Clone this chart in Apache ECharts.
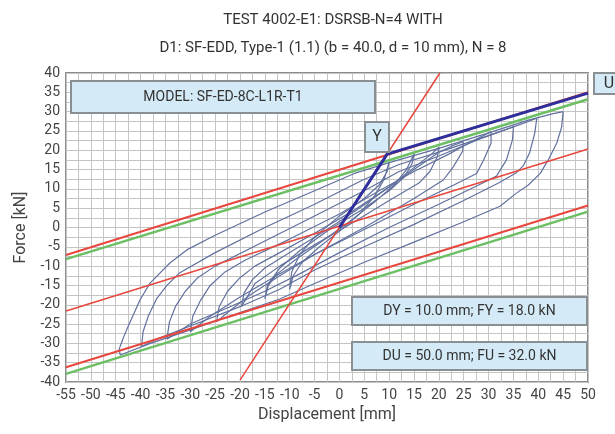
<!DOCTYPE html>
<html>
<head>
<meta charset="utf-8">
<script src="https://cdn.jsdelivr.net/npm/echarts@6/dist/echarts.min.js"></script>
<style>
html, body {margin: 0; padding: 0; background: #fff;}
#main {width: 615px; height: 434px;}
</style>
</head>
<body>
<div id="main"></div>
<script>
// hysteresis cycles, displacement [mm] / force [kN]
var loop10 = [[10,17],[9.6,14.5],[8,11],[5,7.5],[0,3],[-5,-2.5],[-8,-7],[-9.6,-11.5],[-10,-16],
    [-9.3,-12.5],[-7.5,-9],[-4,-5],[0,-1],[4,3.5],[7,8],[9,12.5],[10,17]];
var loop15 = [[15,19],[14.6,16.5],[13,13],[10,9.5],[5,5],[-2,-0.5],[-8,-6],[-12,-10.5],[-14.5,-15],[-15,-18.5],
    [-14.3,-15],[-12.5,-12],[-9,-8.5],[-4,-4],[2,1.5],[7,6.5],[11,11],[13.5,15],[15,19]];
var loop20 = [[20,20.8],[19.7,18.3],[18.2,14.5],[16,11.5],[10,7],[3,1.5],[-5,-4.5],[-12,-10],[-17,-14.5],[-19.7,-20.5],
    [-19.2,-17],[-17.5,-13.5],[-15,-10.5],[-10,-6.5],[-3,-1],[4,5],[10,10.5],[15,15.5],[18.5,19],[20,20.8]];
var loop25 = [[24.9,22.2],[24.8,19.8],[22.9,15.7],[20.9,12.3],[15,7.5],[5,0],[-5,-7],[-12,-12.5],[-18,-17.5],[-22,-21.5],[-24.7,-24.4],
    [-24.2,-20.5],[-22.5,-16.5],[-20,-13],[-17,-10],[-12,-6.5],[-5,-1.5],[3,4.5],[10,10.5],[15,15],[20,19.5],[23,21.3],[24.9,22.2]];
var loop30 = [[30.5,24.8],[30.5,21.8],[29,17.5],[27.6,14],[23,11],[15,6],[5,-0.5],[-5,-7],[-12,-12],[-20,-18],[-26,-23],[-30,-27],
    [-29.5,-23],[-28,-19],[-26,-15],[-23,-11.5],[-19,-8.5],[-10,-3],[0,3.5],[8,9.5],[15,14.5],[22,19],[27,22.5],[30.5,24.8]];
var loop35 = [[35,26.1],[34.8,22.7],[33.6,17.5],[31.6,13.3],[28,11],[20,6],[10,0],[0,-6.5],[-8,-12],[-15,-16.5],[-22,-20.5],[-30,-25],[-34.7,-28.9],
    [-34.2,-24.5],[-33,-20.5],[-31,-16.5],[-28.5,-13],[-25,-10],[-15,-3.5],[-5,3],[5,9.5],[12,14.5],[20,18.5],[28,22.8],[35,26.1]];
var loop40 = [[39.7,28.3],[39.3,24.5],[38.3,19.5],[37,16],[35.6,14.2],[32,11.5],[25,7],[15,0.8],[5,-5],[-5,-11],[-12,-16],[-20,-20.5],[-30,-25.5],[-36,-28.5],[-39.8,-30.8],
    [-39.5,-27],[-38.4,-22.8],[-36.8,-18.5],[-34.7,-15],[-32.1,-11.7],[-25,-6.5],[-15,0],[-5,6],[5,12.5],[12,16.3],[20,19.5],[30,23.8],[36,26.5],[39.7,28.3]];
var loop45 = [[45,30],[44.7,26],[43.7,21.8],[42,17.5],[40.4,14],[38,11],[35.6,8.9],[32.3,5.5],[25,1.5],[15,-3.8],[5,-9],[-5,-14.5],[-12,-18.5],[-20,-22],[-30,-26.5],[-38,-30],[-44.1,-33],
    [-44.3,-31.5],[-43.6,-29],[-42.8,-26.5],[-40.1,-18.7],[-38.1,-14.4],[-34.1,-9.2],[-30.7,-5.8],[-25,-2],[-15,4],[-5,9.5],[3,14],[10,16.8],[20,20.5],[30,24.5],[38,27.8],[43,29.5],[45,30]];

// bilinear idealisation and reference lines
var envelope = [[0,0],[9.6,19],[50,34.8]];
var redSteep = [[-20,-39.5],[20.2,40]];
var redUpper = [[-55,-7.1],[50,35]];
var redMiddle = [[-55,-21.6],[50,20.3]];
var redLower = [[-55,-36.2],[50,5.7]];
var greenUpper = [[-55,-8.2],[50,33.2]];
var greenLower = [[-55,-37.9],[50,4.1]];

var loops = [loop10, loop15, loop20, loop25, loop30, loop35, loop40, loop45];

var chart = echarts.init(document.getElementById('main'));

var series = [];
for (var i = 0; i < loops.length; i++) {
    series.push({
        type: 'line',
        data: loops[i],
        showSymbol: false,
        lineStyle: {color: '#61709e', width: 1.2},
        z: 2
    });
}
function straight(d, color, w) {
    return {type: 'line', data: d, showSymbol: false, lineStyle: {color: color, width: w}, z: 3};
}
series.push(straight(greenUpper, '#6cbf63', 2.5));
series.push(straight(greenLower, '#6cbf63', 2.5));
series.push(straight(redSteep, '#e8473d', 1.5));
series.push(straight(redUpper, '#e8473d', 2));
series.push(straight(redMiddle, '#e8473d', 1.5));
series.push(straight(redLower, '#e8473d', 2));
var env = straight(envelope, '#2e2f9c', 3);
env.z = 4;
series.push(env);

var gridColor = '#c4c4c4';
var fnt = 'Roboto, "Open Sans", sans-serif';

function boxText(x, y, w, h, txt, size) {
    return {
        type: 'group',
        children: [{
            type: 'rect',
            shape: {x: x, y: y, width: w, height: h},
            style: {fill: '#d4eaf6', stroke: '#8a8f93', lineWidth: 2},
            z: 10
        }, {
            type: 'text',
            x: x + w / 2,
            y: y + h / 2,
            style: {text: txt, fill: '#333', font: size + 'px ' + fnt, align: 'center', verticalAlign: 'middle'},
            z: 11
        }]
    };
}

chart.setOption({
    animation: false,
    title: [{
        text: 'TEST 4002-E1: DSRSB-N=4 WITH',
        left: 328, top: 8, textAlign: 'center',
        textStyle: {fontSize: 15, fontWeight: 'normal', color: '#333', fontFamily: fnt}
    }, {
        text: 'D1: SF-EDD, Type-1 (1.1) (b = 40.0, d = 10 mm), N = 8',
        left: 328, top: 36, textAlign: 'center',
        textStyle: {fontSize: 15, fontWeight: 'normal', color: '#333', fontFamily: fnt}
    }],
    grid: {left: 66, right: 27, top: 73, bottom: 52, show: true, borderColor: '#8c8c8c', borderWidth: 2},
    xAxis: {
        type: 'value', min: -55, max: 50, interval: 5,
        name: 'Displacement [mm]', nameLocation: 'middle', nameGap: 22,
        nameTextStyle: {fontSize: 16, color: '#444', fontFamily: fnt},
        axisLine: {show: false}, axisTick: {show: false},
        axisLabel: {fontSize: 14, color: '#444', margin: 6, fontFamily: fnt},
        splitLine: {lineStyle: {color: gridColor}},
        minorTick: {show: false, splitNumber: 2},
        minorSplitLine: {show: true, lineStyle: {color: gridColor}}
    },
    yAxis: {
        type: 'value', min: -40, max: 40, interval: 5,
        name: 'Force [kN]', nameLocation: 'middle', nameGap: 36,
        nameTextStyle: {fontSize: 16, color: '#444', fontFamily: fnt},
        axisLine: {show: false}, axisTick: {show: false},
        axisLabel: {fontSize: 14, color: '#444', margin: 6, fontFamily: fnt},
        splitLine: {lineStyle: {color: gridColor}},
        minorTick: {show: false, splitNumber: 2},
        minorSplitLine: {show: true, lineStyle: {color: gridColor}}
    },
    graphic: [
        boxText(71, 81, 304, 32, 'MODEL: SF-ED-8C-L1R-T1', 14),
        boxText(365, 122, 24, 30, 'Y', 16),
        boxText(594, 73, 30, 21, 'U', 16),
        boxText(352, 297, 235, 28, 'DY = 10.0 mm; FY = 18.0 kN', 14),
        boxText(352, 342, 235, 28, 'DU = 50.0 mm; FU = 32.0 kN', 14)
    ],
    series: series
});
</script>
</body>
</html>
